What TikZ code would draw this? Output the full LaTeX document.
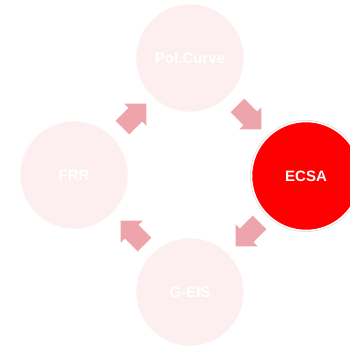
\documentclass[tikz,border=0pt]{standalone}
\usepackage{fontspec}
\setmainfont{Liberation Sans}
\usetikzlibrary{shapes.arrows}
\definecolor{palefill}{RGB}{253,239,239}
\definecolor{arrowpink}{RGB}{238,164,171}
\definecolor{hotred}{RGB}{255,0,0}
\definecolor{rimgray}{RGB}{222,222,222}
\tikzset{
  stage/.style={circle, minimum size=109pt, inner sep=0pt, fill=palefill,
    draw=white, line width=1.5pt, text=white, font=\bfseries\fontsize{15}{18}\selectfont},
  activestage/.style={stage, fill=hotred,
    preaction={draw=rimgray, line width=3pt}},
  flow/.style={single arrow, draw=none, fill=arrowpink, minimum height=34pt,
    inner sep=9.5pt, single arrow head extend=6pt, single arrow head indent=0pt}
}
\begin{document}
\begin{tikzpicture}[x=1pt,y=1pt]
  \useasboundingbox (0,0) rectangle (350,345);
  % four stages around the cycle
  \node[stage] (pol) at (190,287) {Pol.Curve};
  \node[activestage] (ecsa) at (306,169) {ECSA};
  \node[stage] (geis) at (190,53) {G-EIS};
  \node[stage] (frr) at (74,170) {FRR};
  % block arrows running clockwise between the stages
  \node[flow, rotate=45] (a1) at (131,226) {};
  \node[flow, rotate=-45] (a2) at (246,231) {};
  \node[flow, rotate=-135] (a3) at (251,114) {};
  \node[flow, rotate=135] (a4) at (136,109) {};
\end{tikzpicture}
\end{document}
